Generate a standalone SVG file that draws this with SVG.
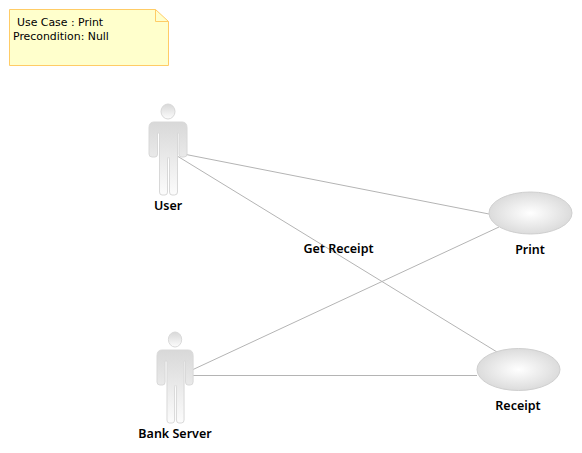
<svg xmlns="http://www.w3.org/2000/svg" width="582" height="453" viewBox="0 0 582 453">
<style>
text{font-family:"DejaVu Sans","Liberation Sans",sans-serif;font-size:10.9px;fill:#000}
.lbl{font-weight:600;text-anchor:middle;font-family:"Noto Sans","DejaVu Sans",sans-serif;font-size:12.5px}
.conn{stroke:#b4b4b4;stroke-width:1;fill:none}
.shape{fill:url(#bodyGrad);stroke:#d8d8d8;stroke-width:1}
.uc{fill:url(#ucGrad);stroke:#cfcfcf;stroke-width:1}
</style>
<defs>
<linearGradient id="bodyGrad" x1="0" y1="0" x2="0" y2="1"><stop offset="0" stop-color="#d8d8d8"/><stop offset="1" stop-color="#fcfcfc"/></linearGradient>
<radialGradient id="ucGrad" cx="0.5" cy="0.5" r="0.55"><stop offset="0" stop-color="#ffffff"/><stop offset="1" stop-color="#d8d8d8"/></radialGradient>
<g id="actor">
<ellipse class="shape" cx="19" cy="7.500" rx="7" ry="7.500"/>
<path class="shape" d="M5 18H33Q38 18 38 24V50Q38 53 35 53H32.500Q30 53 30 50V29H28.500V88Q28.500 91 25.500 91H23Q20.500 91 20.500 88V56Q20.500 53 19.500 53Q18.500 53 18.500 56V88Q18.500 91 16 91H13Q10.500 91 10.500 88V29H8.500V50Q8.500 53 6 53H3Q0 53 0 50V24Q0 18 5 18Z"/>
</g>
</defs>
<rect width="582" height="453" fill="#ffffff"/>
<g id="connectors">
<path class="conn" d="M186 154.500L489 214"/>
<path class="conn" d="M178 156.500L497 352"/>
<path class="conn" d="M192 370L499 227"/>
<path class="conn" d="M193 375.500H477"/>
</g>
<g id="note">
<path d="M9.500 9.500H155.500L168.500 21.500V65.500H9.500Z" fill="#ffffcc" stroke="#ffcc66"/>
<path d="M155.500 9.500V21.500H168.500" fill="none" stroke="#ffcc66"/>
<text x="17" y="26">Use Case : Print</text>
<text x="13" y="40">Precondition: Null</text>
</g>
<g id="user">
<use href="#actor" x="149" y="104"/>
<text class="lbl" x="168" y="210">User</text>
</g>
<g id="bank-server">
<use href="#actor" transform="translate(157 332) scale(.95 1)"/>
<text class="lbl" x="175" y="438">Bank Server</text>
</g>
<g id="print">
<ellipse class="uc" cx="530.500" cy="213" rx="41.500" ry="21"/>
<text class="lbl" x="530" y="254">Print</text>
</g>
<g id="receipt">
<ellipse class="uc" cx="518.500" cy="369.500" rx="41.500" ry="21"/>
<text class="lbl" x="518" y="410">Receipt</text>
</g>
<g id="get-receipt">
<text class="lbl" x="338.500" y="253">Get Receipt</text>
</g>
</svg>
